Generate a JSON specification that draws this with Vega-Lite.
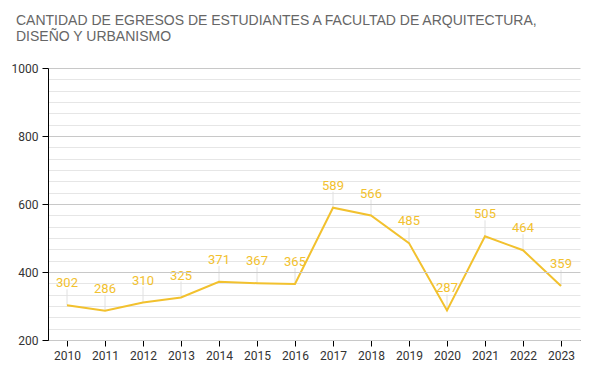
{
  "$schema": "https://vega.github.io/schema/vega-lite/v6.json",
  "width": 532,
  "height": 272,
  "autosize": {"type": "none"},
  "padding": {"left": 48, "top": 68, "right": 13, "bottom": 47},
  "background": "white",
  "title": {
    "text": ["CANTIDAD DE EGRESOS DE ESTUDIANTES A FACULTAD DE ARQUITECTURA,", "DISEÑO Y URBANISMO"],
    "anchor": "start",
    "frame": "group",
    "dx": -32,
    "offset": 18,
    "font": "Liberation Sans",
    "fontSize": 14,
    "fontWeight": "normal",
    "color": "#666666",
    "lineHeight": 16
  },
  "config": {
    "view": {"stroke": null},
    "axis": {"labelFont": "Roboto", "labelColor": "#333333", "labelFontSize": 12}
  },
  "data": {
    "values": [
      {"year": "2010", "value": 302},
      {"year": "2011", "value": 286},
      {"year": "2012", "value": 310},
      {"year": "2013", "value": 325},
      {"year": "2014", "value": 371},
      {"year": "2015", "value": 367},
      {"year": "2016", "value": 365},
      {"year": "2017", "value": 589},
      {"year": "2018", "value": 566},
      {"year": "2019", "value": 485},
      {"year": "2020", "value": 287},
      {"year": "2021", "value": 505},
      {"year": "2022", "value": 464},
      {"year": "2023", "value": 359}
    ]
  },
  "encoding": {
    "x": {
      "field": "year",
      "type": "ordinal",
      "scale": {"type": "point", "padding": 0.5},
      "axis": {"title": null, "labelAngle": 0, "domainColor": "#000000", "tickColor": "#000000", "grid": false, "labelPadding": 4, "tickSize": 6}
    }
  },
  "layer": [
    {
      "mark": {"type": "rule", "color": "#e0e0e0", "strokeWidth": 1, "y2Offset": -16},
      "encoding": {
        "y": {"field": "value", "type": "quantitative", "scale": {"domain": [200, 1000], "nice": false},
          "axis": {"orient": "right", "title": null, "labels": false, "ticks": false, "domain": false, "grid": true, "gridColor": "#e6e6e6",
            "values": [233.33, 266.67, 300, 333.33, 366.67, 433.33, 466.67, 500, 533.33, 566.67, 633.33, 666.67, 700, 733.33, 766.67, 833.33, 866.67, 900, 933.33, 966.67]}},
        "y2": {"field": "value"}
      }
    },
    {
      "mark": {"type": "line", "color": "#F2C12E", "strokeWidth": 2},
      "encoding": {
        "y": {"field": "value", "type": "quantitative", "scale": {"domain": [200, 1000], "nice": false},
          "axis": {"orient": "left", "title": null, "values": [200, 400, 600, 800, 1000], "format": "d", "grid": true, "gridColor": "#c8c8c8",
            "domain": true, "domainColor": "#000000", "domainWidth": 1, "tickColor": "#000000", "tickSize": 6, "labelPadding": 4, "zindex": 1}}
      }
    },
    {
      "mark": {"type": "text", "color": "#F2C12E", "font": "Roboto", "fontSize": 13, "dy": -22},
      "encoding": {
        "y": {"field": "value", "type": "quantitative", "axis": null},
        "text": {"field": "value", "type": "quantitative"}
      }
    }
  ],
  "resolve": {"axis": {"y": "independent"}}
}
